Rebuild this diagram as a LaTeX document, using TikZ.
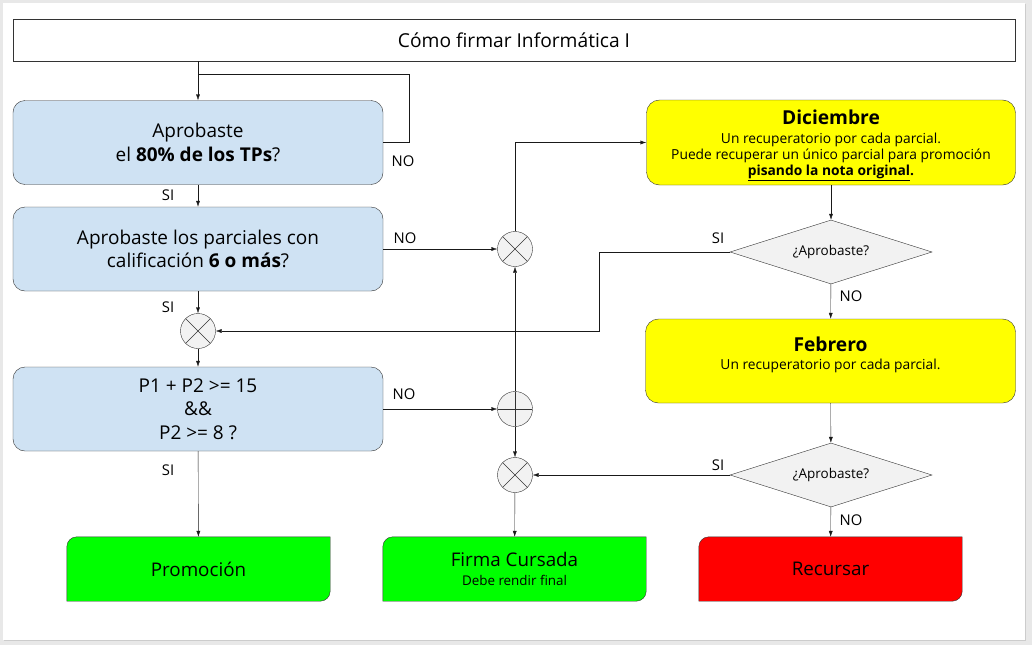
\documentclass[tikz,border=0pt]{standalone}
\usepackage{fontspec}
\setmainfont{Open Sans}
\usetikzlibrary{shapes.geometric,arrows.meta,backgrounds}

\definecolor{qblue}{HTML}{CFE2F3}
\definecolor{recyellow}{HTML}{FFFF00}
\definecolor{okgreen}{HTML}{00FF00}
\definecolor{badred}{HTML}{FF0000}
\definecolor{shapegray}{HTML}{F2F2F2}
\definecolor{edge}{HTML}{333333}
\definecolor{pagegray}{HTML}{E8E8E8}

\tikzset{
  question/.style={rectangle, rounded corners=12pt, draw=edge, fill=qblue, minimum width=370pt, minimum height=84pt, align=center, font=\fontsize{19}{23.5}\selectfont},
  retake/.style={rectangle, rounded corners=13pt, draw=edge, fill=recyellow, minimum width=369pt, minimum height=85pt, align=center, font=\fontsize{13.8}{16}\selectfont},
  check/.style={diamond, draw=edge, fill=shapegray, minimum width=202pt, minimum height=64pt, inner sep=0pt, aspect=3.15, font=\fontsize{13.5}{15}\selectfont},
  outcome/.style={rectangle, minimum width=263pt, minimum height=64pt, align=center, font=\fontsize{18.8}{22}\selectfont},
  mixer/.style={circle, draw=edge, fill=shapegray, minimum size=35pt, inner sep=0pt,
    path picture={\draw[edge] (path picture bounding box.north west) -- (path picture bounding box.south east)
      (path picture bounding box.south west) -- (path picture bounding box.north east);}},
  merge/.style={circle, draw=edge, fill=shapegray, minimum size=35pt, inner sep=0pt,
    path picture={\draw[edge] (path picture bounding box.west) -- (path picture bounding box.east)
      (path picture bounding box.north) -- (path picture bounding box.south);}},
  flow/.style={-{Latex[length=6pt,width=4pt]}, black!90},
  lbl/.style={font=\fontsize{14.8}{16}\selectfont, inner sep=0pt},
}

\begin{document}
\begin{tikzpicture}[x=1pt, y=-1pt]
        \useasboundingbox (0,0) rectangle (1032,645);

        % Title
        \node[draw=edge, fill=white, minimum width=1002pt, minimum height=42pt, font=\fontsize{19.2}{22}\selectfont] (title) at (514,40) {Cómo firmar Informática I};

        % Questions (left column)
        \node[question] (tps) at (198,142.5) {Aprobaste\\ el \textbf{80\% de los TPs}?};
        \node[question] (parc) at (198,249) {Aprobaste los parciales con\\ calificación \textbf{6 o más}?};
        \node[mixer] (mxleft) at (198,331) {};
        \node[question] (nota) at (198,409) {P1 + P2 >= 15\\ \&\&\\ P2 >= 8 ?};

        % Middle column
        \node[mixer] (mxtop) at (515,249) {};
        \node[merge] (mxmid) at (515,409) {};
        \node[mixer] (mxbot) at (515,475) {};

        % Retakes (right column)
        \node[retake] (dic) at (831,142.5) {\rule{0pt}{20pt}{\fontsize{19.2}{22}\selectfont\bfseries Diciembre}\\[3pt]
          Un recuperatorio por cada parcial.\\ Puede recuperar un único parcial para promoción\\
          \underline{\textbf{pisando la nota original}}\textbf{.}};
        \node[check] (qdic) at (831,252) {¿Aprobaste?};
        \node[retake, minimum width=370pt, minimum height=84pt] (feb) at (830.5,361) {{\fontsize{19.2}{22}\selectfont\bfseries Febrero}\\[2pt]
          Un recuperatorio por cada parcial.\\ \mbox{}};
        \node[check] (qfeb) at (831,475) {¿Aprobaste?};

        % Outcomes
        \node[outcome] (prom) at (198.5,569) {Promoción};
        \node[outcome] (firma) at (514.5,569) {Firma Cursada\\[-3pt] {\fontsize{13.4}{16}\selectfont Debe rendir final}};
        \node[outcome] (recur) at (830.5,569) {Recursar};

        % Connectors
        \coordinate (loop) at (198,74);
        \draw[flow] (title.south -| tps) -- (tps.north);
        \draw[black!90] (tps.east) -- (409,142.5) |- (loop);
        \draw[flow] (tps) -- (parc);
        \draw[flow] (parc) -- (mxleft);
        \draw[flow] (mxleft) -- (nota);
        \draw[flow] (nota) -- (prom);
        \draw[flow] (parc.east) -- (mxtop.west);
        \draw[flow] (mxtop.north) |- (dic.west);
        \draw[flow] (nota.east) -- (mxmid.west);
        \draw[flow] (mxmid) -- (mxtop);
        \draw[flow] (mxmid) -- (mxbot);
        \draw[flow] (mxbot) -- (firma);
        \draw[flow] (dic) -- (qdic);
        \draw[flow] (qdic.west) -- (599,252) |- (mxleft.east);
        \draw[flow] (qdic) -- (feb);
        \draw[flow] (feb) -- (qfeb);
        \draw[flow] (qfeb.west) -- (mxbot.east);
        \draw[flow] (qfeb) -- (recur);

        % Labels
        \node[lbl] (no1) at (403,161) {NO};
        \node[lbl] (si1) at (168,195) {SI};
        \node[lbl] (no2) at (405,238) {NO};
        \node[lbl] (si2) at (168,307) {SI};
        \node[lbl] (no3) at (404,394) {NO};
        \node[lbl] (si3) at (168,470) {SI};
        \node[lbl] (si4) at (718,238) {SI};
        \node[lbl] (no4) at (851,296) {NO};
        \node[lbl] (si5) at (718,465) {SI};
        \node[lbl] (no5) at (851,520) {NO};

        % Page and outcome shapes
        \begin{scope}[on background layer]
          \fill[pagegray] (0,0) rectangle (1032,645);
          \fill[white] (3,3) rectangle (1025,640);
          \draw[black!20] (1025.5,4) -- (1025.5,640.5) -- (4,640.5);
          \foreach \n/\c in {prom/okgreen, firma/okgreen, recur/badred}
            \filldraw[fill=\c, draw=edge] (\n.south west) -- ([yshift=-10pt]\n.north west)
              .. controls ([yshift=-4.5pt]\n.north west) and ([xshift=4.5pt]\n.north west) .. ([xshift=10pt]\n.north west)
              -- (\n.north east) -- ([yshift=10pt]\n.south east)
              .. controls ([yshift=4.5pt]\n.south east) and ([xshift=-4.5pt]\n.south east) .. ([xshift=-10pt]\n.south east)
              -- cycle;
        \end{scope}
    \end{tikzpicture}
\end{document}
